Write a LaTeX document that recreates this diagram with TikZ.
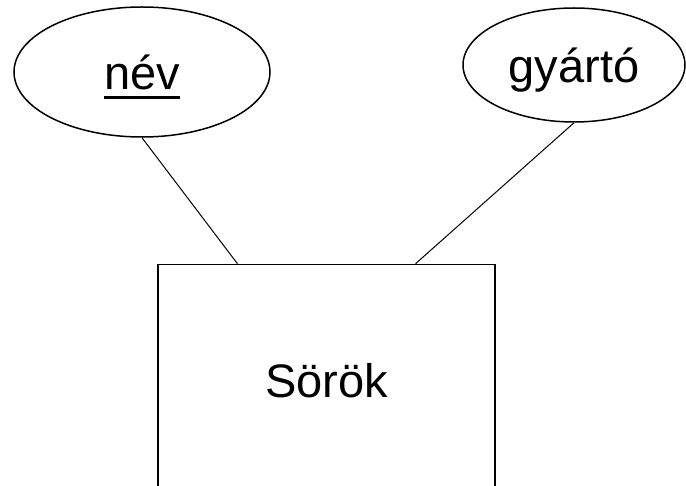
\documentclass[tikz,border=0pt]{standalone}
\usepackage{fontspec}
\setmainfont{Liberation Sans}
\usetikzlibrary{shapes.geometric,calc}

% underlined key attribute
\newcommand{\kulcs}[1]{\setbox0\hbox{#1}\rlap{\raisebox{-9.5pt}{\rule{\wd0}{3pt}}}\box0}

\begin{document}
\begin{tikzpicture}[x=1pt, y=-1pt,
    attr/.style={ellipse, draw, line width=1.5pt, inner sep=0pt, text depth=0pt},
    entity/.style={rectangle, draw, line width=1.5pt, minimum width=337pt, minimum height=232pt},
    font=\fontsize{47}{56}\selectfont]

    \useasboundingbox (0,0) rectangle (686,486);
    \clip (0,0) rectangle (686,486);

    \node[attr, minimum width=256pt, minimum height=130pt] (nev) at (142,72) {\kulcs{név}};
    \node[attr, minimum width=222pt, minimum height=114pt] (gyarto) at (574,65) {gyártó};
    \node[entity] (sorok) at (326.5,380.5) {Sörök};

    \path[line width=1pt]
        (nev.south) edge ($(sorok.north west)!0.237!(sorok.north east)$)
        (gyarto.south) edge ($(sorok.north west)!0.763!(sorok.north east)$);
\end{tikzpicture}
\end{document}
